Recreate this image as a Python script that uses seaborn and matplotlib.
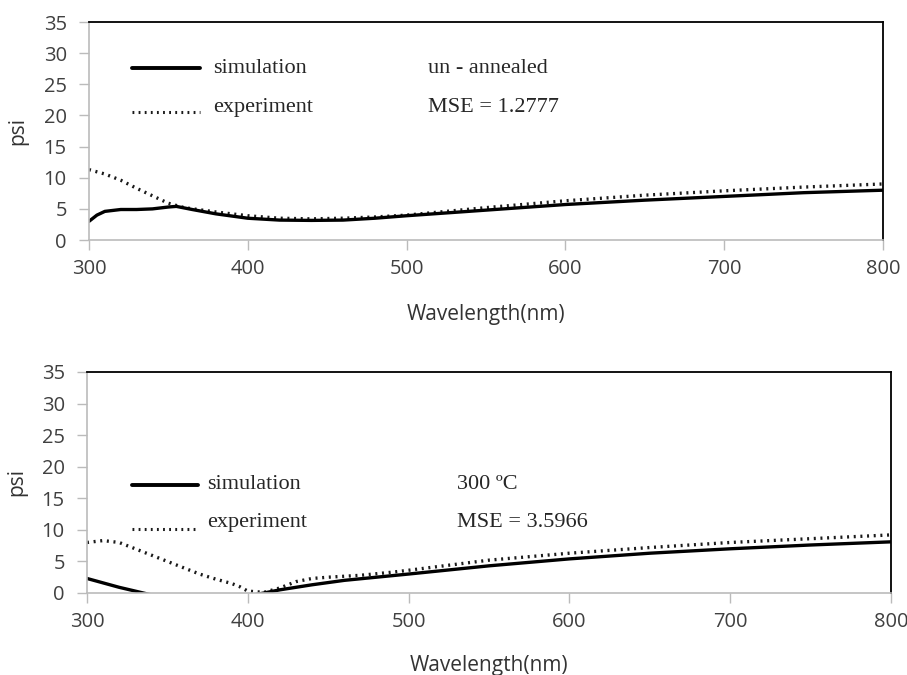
import numpy as np
import pandas as pd
import matplotlib
matplotlib.use("Agg")
import matplotlib.pyplot as plt
import seaborn as sns

# ---- data ----
wl_sim_top = [300, 305, 310, 320, 330, 340, 350, 355, 365, 380, 400, 420, 440, 460, 480, 500,
              550, 600, 650, 700, 750, 800]
psi_sim_top = [3.0, 4.0, 4.6, 4.9, 4.9, 5.0, 5.3, 5.4, 4.9, 4.2, 3.5, 3.2, 3.15, 3.2, 3.5, 3.9,
               4.8, 5.7, 6.4, 7.0, 7.6, 8.0]
wl_exp_top = [300, 310, 320, 330, 340, 350, 360, 380, 400, 420, 440, 460, 480, 500,
              550, 600, 650, 700, 750, 800]
psi_exp_top = [11.3, 10.6, 9.6, 8.3, 7.1, 5.9, 5.2, 4.5, 3.9, 3.5, 3.4, 3.5, 3.7, 4.0,
               5.2, 6.3, 7.2, 7.9, 8.5, 9.0]

wl_sim_bot = [300, 310, 320, 330, 340, 360, 380, 400, 410, 420, 440, 460, 480, 500,
              550, 600, 650, 700, 750, 800]
psi_sim_bot = [2.3, 1.6, 0.9, 0.3, -0.3, -1.0, -1.2, -0.5, 0.0, 0.5, 1.3, 2.0, 2.5, 3.0,
               4.3, 5.4, 6.3, 7.0, 7.6, 8.1]
wl_exp_bot = [300, 310, 320, 330, 340, 350, 360, 370, 380, 390, 395, 400, 410, 420, 430,
              440, 450, 470, 490, 500, 550, 600, 650, 700, 750, 800]
psi_exp_bot = [8.0, 8.3, 8.0, 7.0, 6.0, 5.0, 4.0, 3.0, 2.2, 1.5, 1.0, 0.3, 0.1, 0.8, 1.8,
               2.3, 2.5, 2.8, 3.3, 3.6, 5.2, 6.3, 7.2, 8.0, 8.6, 9.2]

y_ticks = [0, 5, 10, 15, 20, 25, 30, 35]
x_ticks = [300, 400, 500, 600, 700, 800]

sns.set_theme(style="white")
plt.rcParams["font.family"] = ["Open Sans", "DejaVu Sans"]

fig = plt.figure(figsize=(9.07, 6.75), dpi=100)
ax_top = fig.add_axes([0.0981, 0.6444, 0.8754, 0.3230])
ax_bot = fig.add_axes([0.0959, 0.1215, 0.8864, 0.3274])

serif = "Liberation Serif"
tsize = 16

# per panel: data, annotation texts, legend / label placement (axes fractions)
panels = [
    dict(ax=ax_top, xs=wl_sim_top, ys=psi_sim_top, xe=wl_exp_top, ye=psi_exp_top,
         note1="un - annealed", note2="MSE = 1.2777",
         line_x=(0.054, 0.140), text_x=0.156, note_x=0.427,
         y1=0.789, y2=0.606, dot_y=0.587, xlab_y=-0.292, ylab_x=-0.076),
    dict(ax=ax_bot, xs=wl_sim_bot, ys=psi_sim_bot, xe=wl_exp_bot, ye=psi_exp_bot,
         note1="300 \u00baC", note2="MSE = 3.5966",
         line_x=(0.056, 0.138), text_x=0.149, note_x=0.46,
         y1=0.489, y2=0.317, dot_y=0.290, xlab_y=-0.280, ylab_x=-0.074),
]

for p in panels:
    ax = p["ax"]
    sim = pd.DataFrame({"wl": p["xs"], "psi": p["ys"]})
    exp = pd.DataFrame({"wl": p["xe"], "psi": p["ye"]})
    sns.lineplot(data=exp, x="wl", y="psi", ax=ax, color="#1a1a1a", lw=2.4,
                 linestyle=(0, (0.6, 1.4)), dash_capstyle="butt")
    sns.lineplot(data=sim, x="wl", y="psi", ax=ax, color="black", lw=2.4)
    ax.set_xlim(300, 800)
    ax.set_ylim(0, 35)
    ax.set_xticks(x_ticks)
    ax.set_yticks(y_ticks)
    ax.set_xlabel("Wavelength(nm)", fontsize=15, color="#333333")
    ax.set_ylabel("psi", fontsize=15, color="#333333")
    ax.xaxis.set_label_coords(0.5, p["xlab_y"])
    ax.yaxis.set_label_coords(p["ylab_x"], 0.5)
    ax.tick_params(axis="both", labelsize=14.5, colors="#404040", length=7, width=1,
                   color="#bbbbbb", bottom=True, left=True)
    ax.tick_params(axis="y", pad=9)
    ax.tick_params(axis="x", pad=7)
    for s in ["left", "bottom"]:
        ax.spines[s].set_color("#bbbbbb")
        ax.spines[s].set_linewidth(1.2)
    for s in ["top", "right"]:
        ax.spines[s].set_color("black")
        ax.spines[s].set_linewidth(1.3)
    ax.grid(False)

    # hand-drawn legend and annotations, like the original
    ax.plot(p["line_x"], [p["y1"], p["y1"]], transform=ax.transAxes, color="black", lw=2.8)
    ax.plot(p["line_x"], [p["dot_y"], p["dot_y"]], transform=ax.transAxes, color="#1a1a1a",
            lw=2.2, linestyle=(0, (0.6, 1.4)))
    ax.text(p["text_x"], p["y1"], "simulation", transform=ax.transAxes, family=serif,
            fontsize=tsize, va="center", ha="left")
    ax.text(p["text_x"], p["y2"], "experiment", transform=ax.transAxes, family=serif,
            fontsize=tsize, va="center", ha="left")
    ax.text(p["note_x"], p["y1"], p["note1"], transform=ax.transAxes, family=serif,
            fontsize=tsize, va="center", ha="left")
    ax.text(p["note_x"], p["y2"], p["note2"], transform=ax.transAxes, family=serif,
            fontsize=tsize, va="center", ha="left")

fig.savefig("out.png", dpi=100)
